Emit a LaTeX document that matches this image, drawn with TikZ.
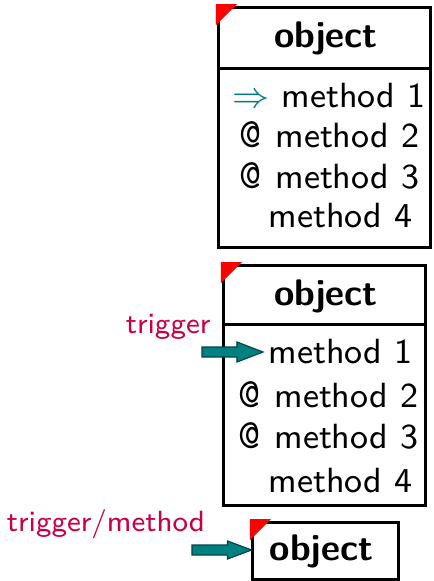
\documentclass[tikz,border=0pt]{standalone}
\usetikzlibrary{fit,calc}
\definecolor{trigcol}{RGB}{200,0,75}
\definecolor{arrowfill}{RGB}{0,128,128}
\definecolor{arrowedge}{RGB}{0,70,70}
\newcommand{\txtsize}{\fontsize{8.75}{11}\selectfont}
\newcommand{\ttlsize}{\fontsize{9.25}{11}\selectfont}
\newcommand{\lblsize}{\fontsize{7.3}{9}\selectfont}
\newcommand{\atsign}{{\ttfamily\fontsize{10.5}{11}\selectfont @}\hspace{3.4pt}}
\begin{document}
\begin{tikzpicture}[x=0.25pt,y=-0.25pt,
  font=\sffamily\txtsize,
  frame/.style={draw, line width=0.75pt, inner sep=0pt},
  corner/.style={fill=red},
  title/.style={font=\sffamily\bfseries\ttlsize, anchor=base, inner sep=0pt},
  entry/.style={anchor=base west, inner sep=0pt},
  trig/.style={font=\sffamily\lblsize, text=trigcol, anchor=base west, inner sep=0pt},
  blockarrow/.style={fill=arrowfill, draw=arrowedge, line width=0.3pt, line join=miter}]
\useasboundingbox (0,0) rectangle (433,581);

% ---- first object: full method list, method 1 marked ----
\node[frame, fit={(219,7) (431,68)}] (hdA) {};
\node[frame, fit={(219,68) (431,247)}] (bdA) {};
\fill[corner] ($(hdA.north west)+(-1.5,-1.5)$) -- ++(21,0) -- ++(-21,21) -- cycle;
\node[title] (tA) at (326,47) {object};
\node[entry] (a1) at (232,107) {\textcolor{arrowfill}{$\Rightarrow$} method 1};
\node[entry] (a2) at (239,147) {\atsign method 2};
\node[entry] (a3) at (239,188) {\atsign method 3};
\node[entry] (a4) at (268,227) {method 4};

% ---- second object: trigger on method 1 ----
\node[frame, fit={(224,265) (426,324)}] (hdB) {};
\node[frame, fit={(224,324) (426,505)}] (bdB) {};
\fill[corner] ($(hdB.north west)+(-1.5,-1.5)$) -- ++(21,0) -- ++(-21,21) -- cycle;
\node[title] (tB) at (326,305) {object};
\node[entry] (b1) at (268,363) {method 1};
\node[entry] (b2) at (238,407) {\atsign method 2};
\node[entry] (b3) at (238,448) {\atsign method 3};
\node[entry] (b4) at (268,492) {method 4};
\node[trig] (lB) at (125,333) {trigger};
\coordinate (sB) at (202,352);
\coordinate (eB) at ($(b1.base west)+(-5,-11)$);
\path[blockarrow] ($(sB)+(0,-5)$) -- ($(eB)+(-26,-5)$) -- ($(eB)+(-26,-10)$)
  -- (eB) -- ($(eB)+(-26,10)$) -- ($(eB)+(-26,5)$) -- ($(sB)+(0,5)$) -- cycle;

% ---- third object: trigger on the object itself ----
\node[frame, fit={(253,522) (399,579)}] (bxC) {};
\fill[corner] ($(bxC.north west)+(-1.5,-1.5)$) -- ++(21,0) -- ++(-21,21) -- cycle;
\node[title, anchor=base west] (tC) at (269,560) {object};
\node[trig] (lC) at (6,531) {trigger/method};
\coordinate (sC) at (192,550);
\coordinate (eC) at (bxC.west |- sC);
\path[blockarrow] ($(sC)+(0,-5)$) -- ($(eC)+(-24,-5)$) -- ($(eC)+(-24,-9)$)
  -- (eC) -- ($(eC)+(-24,9)$) -- ($(eC)+(-24,5)$) -- ($(sC)+(0,5)$) -- cycle;
\end{tikzpicture}
\end{document}
